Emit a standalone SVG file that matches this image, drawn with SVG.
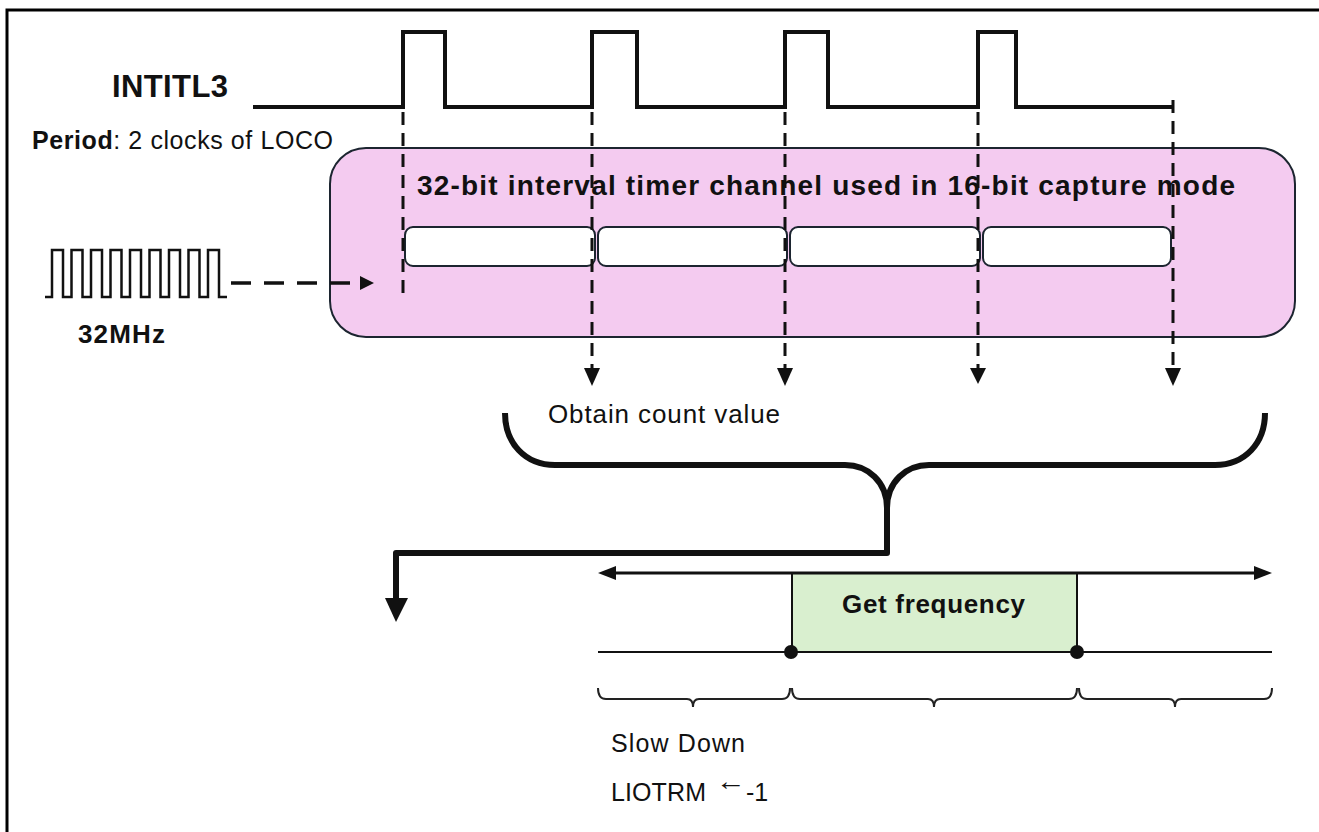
<svg xmlns="http://www.w3.org/2000/svg" width="1319" height="832" viewBox="0 0 1319 832">
  <style>
    .sans { font-family: "Liberation Sans", Arial, sans-serif; fill: #111; }
    .bold { font-weight: bold; }
    .wave { fill: none; stroke: #111; stroke-width: 4; stroke-linejoin: miter; }
    .dash { fill: none; stroke: #111; stroke-width: 3; stroke-dasharray: 13 8; }
    .head { fill: #111; }
    .brace { fill: none; stroke: #111; stroke-width: 6; stroke-linejoin: round; }
    .thin { fill: none; stroke: #222; stroke-width: 2; }
    .slot { fill: #ffffff; stroke: #1c2530; stroke-width: 2; }
  </style>

  <rect width="1319" height="832" fill="#ffffff"/>
  <!-- outer frame (top and left edges visible) -->
  <path d="M7,832 V10 H1319" fill="none" stroke="#000" stroke-width="3"/>

  <!-- INTITL3 signal -->
  <g id="intitl3">
    <text class="sans bold" x="112" y="97" font-size="31" textLength="116">INTITL3</text>
    <path class="wave" d="M253,107 H403 V32 H445 V107 H592 V32 H637 V107 H785 V32 H828 V107 H978 V32 H1016 V107 H1173"/>
    <text class="sans" x="32" y="149" font-size="25" textLength="301"><tspan font-weight="bold">Period</tspan>: 2 clocks of LOCO</text>
  </g>

  <!-- timer channel block -->
  <g id="timer">
    <rect x="330" y="148" width="965" height="189" rx="36" ry="36" fill="#f4cbf0" stroke="#1c2530" stroke-width="2"/>
    <text class="sans bold" x="417" y="195" font-size="28" textLength="818">32-bit interval timer channel used in 16-bit capture mode</text>
    <rect class="slot" x="405" y="227" width="190" height="39" rx="8"/>
    <rect class="slot" x="598" y="227" width="189" height="39" rx="8"/>
    <rect class="slot" x="790" y="227" width="190" height="39" rx="8"/>
    <rect class="slot" x="983" y="227" width="188" height="39" rx="8"/>
  </g>

  <!-- 32 MHz clock source -->
  <g id="clock">
    <path fill="none" stroke="#111" stroke-width="2.5" d="M45,297 H52 V250 H63 V297 H71.5 V250 H82.5 V297 H91 V250 H102 V297 H110.5 V250 H121.5 V297 H130 V250 H141 V297 H149.5 V250 H160.5 V297 H169 V250 H180 V297 H188.5 V250 H199.5 V297 H208 V250 H219 V297 H227"/>
    <text class="sans bold" x="78" y="343" font-size="26" textLength="87">32MHz</text>
  </g>

  <!-- result labels -->
  <g id="obtain">
    <text class="sans" x="548" y="423" font-size="26" textLength="232">Obtain count value</text>
  </g>

  <!-- frequency measurement window -->
  <g id="get-frequency">
    <rect x="792" y="573" width="285" height="79" fill="#d9efcf"/>
    <path d="M792,573 V652 M1077,573 V652" stroke="#111" stroke-width="2"/>
    <text class="sans bold" x="842" y="613" font-size="26" textLength="183">Get frequency</text>
  </g>

  <g id="slow-down">
    <text class="sans" x="611" y="752" font-size="25" textLength="134">Slow Down</text>
    <text class="sans" x="611" y="801" font-size="25" textLength="95">LIOTRM</text>
    <text class="sans" x="716" y="790" font-size="26" textLength="30" lengthAdjust="spacingAndGlyphs">←</text>
    <text class="sans" x="746" y="801" font-size="25">-1</text>
  </g>

  <!-- connectors -->
  <g id="connectors">
    <!-- capture edges -->
    <path class="dash" d="M403,112 V295"/>
    <path class="dash" d="M592,112 V368 M785,112 V368 M978,112 V368 M1173,100 V368"/>
    <polygon class="head" points="584,368 600,368 592,386"/>
    <polygon class="head" points="777,368 793,368 785,386"/>
    <polygon class="head" points="970,368 986,368 978,384"/>
    <polygon class="head" points="1165,368 1181,368 1173,386"/>

    <!-- clock into timer -->
    <path d="M231,283 H362" fill="none" stroke="#111" stroke-width="3.5" stroke-dasharray="20 13"/>
    <polygon class="head" points="360,276 374,283 360,290"/>

    <!-- gather brace -->
    <path class="brace" d="M505,413 C505,443 525,465 555,465 H845 C868,465 887,482 887,508"/>
    <path class="brace" d="M887,508 C887,482 906,465 929,465 H1215 C1245,465 1265,443 1265,413"/>
    <path class="brace" d="M887,505 V553 H396 V600" stroke-linejoin="miter"/>
    <polygon class="head" points="385,598 408,598 396,622"/>

    <!-- time axis -->
    <path d="M612,573 H1258" stroke="#111" stroke-width="3"/>
    <polygon class="head" points="616,566 598,573 616,580"/>
    <polygon class="head" points="1254,566 1272,573 1254,580"/>
    <path d="M598,652 H1272" stroke="#111" stroke-width="2"/>
    <circle cx="791" cy="652" r="7" fill="#111"/>
    <circle cx="1077" cy="652" r="7" fill="#111"/>

    <!-- phase braces -->
    <path class="thin" d="M598,688 Q598,699 606,699 H687 Q693,699 693,707 Q693,699 699,699 H782 Q790,699 790,688"/>
    <path class="thin" d="M792,688 Q792,699 800,699 H928 Q934,699 934,707 Q934,699 940,699 H1069 Q1077,699 1077,688"/>
    <path class="thin" d="M1079,688 Q1079,699 1087,699 H1169 Q1175,699 1175,707 Q1175,699 1181,699 H1264 Q1272,699 1272,688"/>
  </g>
</svg>
